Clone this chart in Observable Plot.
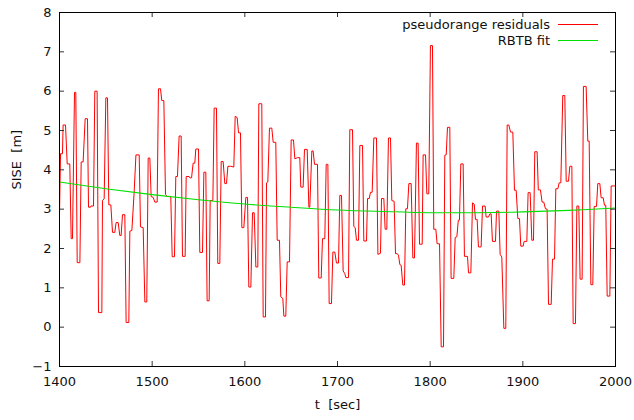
<!DOCTYPE html>
<html>
<head>
<meta charset="utf-8">
<script src="https://cdn.jsdelivr.net/npm/d3@7"></script>
<script src="https://cdn.jsdelivr.net/npm/@observablehq/plot@0.6"></script>
<style>
  html, body { margin: 0; padding: 0; background: #fff; }
  #chart svg { display: block; }
</style>
</head>
<body>
<div id="chart"></div>
<script>
// pseudorange residuals (vertices)
const t = [
1400.0,1401.1,1403.2,1403.9,1406.5,1408.3,1411.1,1412.6,1414.0,1416.2,1417.6,1419.1,1422.0,1423.4,1425.5,1427.7,1430.2,1431.3,1433.5,1434.0,1436.7,1438.1,1440.6,1442.1,1445.7,1446.4,1448.2,1450.0,1451.8,1453.2,1455.4,1457.2,1459.7,1461.1,1463.3,1465.1,1466.5,1468.0,1470.5,1471.9,1474.8,1475.9,1478.1,1480.5,1482.5,
1486.0,1487.4,1490.3,1492.1,1494.2,1495.7,1497.5,1498.9,1501.1,1502.9,1505.4,1506.8,1509.0,1510.4,1512.6,1514.4,1516.5,1520.1,1521.6,1524.1,1525.5,1527.3,1529.1,1531.3,1532.7,1535.6,1536.7,1539.9,1541.0,1542.5,1544.2,1546.0,1547.1,1550.0,1551.4,1554.3,1555.8,1557.9,1559.3,1561.5,1562.6,1565.5,1566.9,1569.4,
1570.8,1573.0,1574.5,1576.6,1578.4,1580.2,1581.7,1584.9,1588.1,1589.6,1591.7,1593.2,1595.3,1596.8,1598.9,1601.1,1602.9,1604.3,1606.5,1608.3,1610.1,1611.9,1614.0,1615.1,1618.3,1619.8,1622.3,1623.4,1624.8,1626.6,1629.1,1630.6,1633.4,1634.9,1637.4,1638.8,1641.0,1642.1,1644.2,1645.7,1648.2,1650.0,1652.5,1654.0,1656.8,
1659.3,1660.4,1662.9,1664.4,1667.3,1669.1,1670.1,1672.3,1673.7,1675.2,1678.4,1679.8,1682.4,1683.8,1686.3,1687.8,1689.6,1691.0,1693.5,1695.0,1697.1,1698.9,1701.1,1702.5,1704.3,1706.1,1707.9,1709.0,1711.9,1713.3,1716.2,1717.6,1719.1,1720.5,1722.7,1724.1,1727.0,1728.4,1731.3,1732.4,1734.2,1735.6,1737.4,1739.2,1742.1,
1743.6,1746.4,1747.5,1750.0,1751.4,1753.2,1755.0,1757.2,1758.6,1761.1,1762.6,1764.4,1765.8,1767.3,1768.7,1770.5,1772.3,1773.7,1775.5,1777.0,1779.5,1781.3,1783.1,1785.2,1787.0,1788.5,1791.4,1792.4,1795.0,1796.4,1798.5,1800.3,1802.5,1803.9,1806.1,1807.5,1810.1,1811.9,1814.4,1815.8,1817.3,1818.7,1821.2,1822.6,1825.5,1827.0,1828.8,
1830.4,1831.6,1833.1,1835.6,1837.0,1840.3,1841.4,1843.9,1845.7,1847.5,1848.9,1850.7,1852.1,1855.0,1856.5,1859.3,1860.4,1862.9,1864.4,1865.8,1867.2,1870.5,1871.6,1874.1,1875.5,1877.3,1879.5,1881.6,1883.1,1884.9,1886.7,1889.2,1891.0,1892.8,1894.6,1896.4,1897.8,1900.3,1901.4,1904.3,1905.7,1907.9,1909.7,1911.5,1912.9,1915.4,
1916.7,1919.0,1920.8,1922.6,1924.4,1926.2,1927.7,1930.6,1932.0,1934.2,1935.6,1937.8,1939.2,1941.0,1943.1,1945.3,1946.8,1949.3,1950.7,1952.9,1954.3,1956.8,1958.3,1960.4,1961.8,1964.0,1965.4,1968.3,1970.1,1971.6,1973.4,1975.5,1977.0,1979.5,1980.9,1983.1,1984.5,1986.7,1988.1,1989.5,1991.0,1993.9,1995.3,1998.2,2000.0
];
const sise = [
2.85,4.41,4.41,5.14,5.14,4.15,4.15,2.25,2.25,5.97,5.97,1.64,1.64,4.20,4.20,5.30,5.30,3.05,3.05,3.08,3.08,6.00,6.00,0.37,0.37,3.22,3.26,5.83,5.83,3.11,3.11,2.41,2.41,2.66,2.66,2.33,2.33,2.86,2.86,0.12,0.12,2.44,2.46,3.41,4.38,
4.38,2.55,2.53,0.64,0.64,4.30,4.30,3.32,3.30,3.18,3.18,6.06,6.06,5.76,5.76,3.37,3.32,3.32,1.79,1.79,3.83,3.83,4.86,4.86,1.80,1.80,3.83,3.83,3.79,3.80,4.17,4.17,4.53,4.53,1.90,1.90,3.94,3.94,0.67,0.67,3.22,3.22,5.57,5.57,
1.62,1.62,4.21,4.21,3.65,3.65,4.09,4.09,4.07,5.36,5.33,4.94,4.94,2.53,2.53,3.30,3.30,1.02,1.02,2.91,2.91,1.53,1.53,5.68,5.68,0.26,0.26,3.67,3.69,5.06,5.06,4.70,4.70,2.21,2.21,0.77,0.73,0.28,0.28,1.66,1.66,4.76,4.76,4.28,4.31,
4.31,3.56,3.56,4.52,4.52,3.05,3.05,4.48,4.48,4.14,4.14,1.25,1.25,2.25,2.25,4.14,4.14,0.60,0.60,1.91,1.91,1.63,1.63,3.35,3.35,1.43,1.36,1.26,1.26,5.02,5.02,2.56,2.53,2.21,2.21,4.62,4.62,2.19,2.19,3.27,3.27,3.43,3.43,4.81,4.81,
1.85,1.88,3.27,3.27,2.49,2.49,4.81,4.81,3.22,3.20,1.87,1.87,1.83,1.59,1.57,1.07,1.07,3.01,3.01,3.65,3.65,1.76,1.76,4.68,4.68,2.11,2.11,4.38,4.38,3.39,3.39,7.16,7.16,2.49,2.49,2.12,2.12,-0.50,-0.50,4.37,4.38,5.08,5.08,1.24,1.24,2.28,2.30,
2.72,2.72,4.15,4.15,1.80,1.80,1.38,1.38,3.16,3.13,2.74,2.74,2.04,2.04,3.08,3.08,2.80,2.80,2.88,2.88,2.18,2.18,2.95,2.95,1.85,1.78,-0.03,-0.03,5.14,5.14,4.96,4.96,3.48,3.48,2.76,2.76,2.06,2.06,2.18,2.18,3.42,3.42,2.21,2.21,4.46,4.46,
3.49,3.49,3.18,3.18,3.01,3.00,0.58,0.58,1.73,1.73,3.52,3.52,3.67,3.67,5.89,5.89,3.71,3.71,4.09,4.09,0.09,0.09,3.08,3.08,1.22,1.22,6.12,6.12,4.73,4.73,1.08,1.08,3.07,3.07,3.65,3.65,3.29,3.29,3.10,3.10,0.79,0.79,3.59,3.59,3.59
];

// RBTB fit (read every 50 s)
const fitT = [1400,1450,1500,1550,1600,1650,1700,1750,1800,1850,1900,1950,2000];
const fitSise = [3.69,3.52,3.37,3.24,3.13,3.05,2.98,2.94,2.91,2.91,2.93,2.97,3.03];

const xTicks = [1400,1500,1600,1700,1800,1900,2000];
const yTicks = [-1,0,1,2,3,4,5,6,7,8];

const seriesNames = ["pseudorange residuals", "RBTB fit"];
const seriesColors = ["#ff0000", "#00e000"];

const W = 634, H = 420;
const mL = 59, mR = 19, mT = 12, mB = 54;
const innerW = W - mL - mR, innerH = H - mT - mB;
const tickLen = 5;

const legend = (index, scales, values, dim) => {
  const g = d3.create("svg:g")
    .attr("font-family", "DejaVu Sans")
    .attr("font-size", 13);
  const xr = dim.width - dim.marginRight;
  seriesNames.forEach((name, i) => {
    const y = dim.marginTop + 12.5 + i * 16;
    g.append("text")
      .attr("x", xr - 65).attr("y", y).attr("dy", "0.35em")
      .attr("text-anchor", "end").attr("fill", "#111")
      .text(name);
    g.append("line")
      .attr("x1", xr - 57).attr("x2", xr - 17)
      .attr("y1", y).attr("y2", y)
      .attr("stroke", seriesColors[i]).attr("stroke-width", 1);
  });
  return g.node();
};

const chart = Plot.plot({
  width: W, height: H,
  marginLeft: mL, marginRight: mR, marginTop: mT, marginBottom: mB,
  style: { fontFamily: "DejaVu Sans", fontSize: "13px", color: "#111", background: "#fff" },
  x: { domain: [1400, 2000] },
  y: { domain: [-1, 8] },
  marks: [
    Plot.line(t, { x: t, y: sise, stroke: seriesColors[0], strokeWidth: 1 }),
    Plot.line(fitT, { x: fitT, y: fitSise, stroke: seriesColors[1], strokeWidth: 1.1, curve: "catmull-rom" }),
    Plot.ruleX(xTicks, { x: d => d, insetTop: innerH - tickLen, stroke: "#333" }),
    Plot.ruleX(xTicks, { x: d => d, insetBottom: innerH - tickLen, stroke: "#333" }),
    Plot.ruleY(yTicks, { y: d => d, insetRight: innerW - tickLen, stroke: "#333" }),
    Plot.ruleY(yTicks, { y: d => d, insetLeft: innerW - tickLen, stroke: "#333" }),
    Plot.frame({ stroke: "#000" }),
    Plot.axisX(xTicks, { tickSize: 0, tickPadding: 10.5, tickFormat: d3.format("d"), label: null }),
    Plot.axisY(yTicks, { tickSize: 0, tickPadding: 8, tickFormat: d3.format("d"), label: null }),
    Plot.text(["t \u00a0[sec]"], { frameAnchor: "bottom", dy: 42, fill: "#111" }),
    Plot.text(["SISE \u00a0[m]"], { frameAnchor: "left", dx: -43, rotate: -90, fill: "#111" }),
    legend
  ]
});
document.getElementById("chart").appendChild(chart);
</script>
</body>
</html>
